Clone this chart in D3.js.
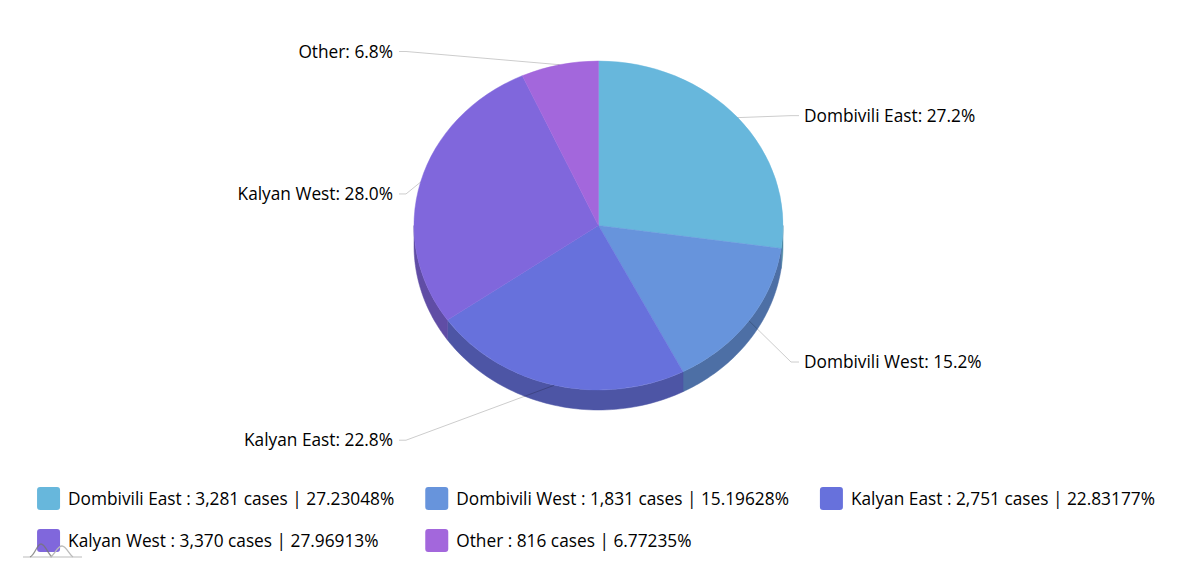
<!DOCTYPE html>
<html>
<head>
<meta charset="utf-8">
<script src="https://cdn.jsdelivr.net/npm/d3@7"></script>
<style>
  html, body { margin: 0; padding: 0; background: #fff; }
  svg { display: block; font-family: "Open Sans", sans-serif; }
</style>
</head>
<body>
<svg id="chart" width="1200" height="583"></svg>
<script>
const categories = ["Dombivili East", "Dombivili West", "Kalyan East", "Kalyan West", "Other"];
const cases = [3281, 1831, 2751, 3370, 816];
const colors = ["#67b7dc", "#6794dc", "#6771dc", "#8067dc", "#a367dc"];

const W = 1200, H = 583;
const cx = 598.5, cy = 225.5, rx = 184.5, ry = 164.5, depth = 20;
const fontSize = 17.3;

const svg = d3.select("#chart");
const total = d3.sum(cases);
const pctFmt5 = d3.format(".5f");
const pctFmt1 = d3.format(".1f");
const numFmt = d3.format(",");

const pie = d3.pie().sort(null).value(d => d.value);
const data = categories.map((c, i) => ({ name: c, value: cases[i], color: colors[i] }));
const arcs = pie(data);

const ex = t => cx + rx * Math.sin(t);
const ey = t => cy - ry * Math.cos(t);
const darken = c => { const k = d3.rgb(c); return d3.rgb(k.r * 0.75, k.g * 0.75, k.b * 0.75).formatHex(); };

// sides (visible front half: PI/2 .. 3PI/2)
const line = d3.line();
const gSide = svg.append("g");
arcs.forEach(a => {
  const a0 = Math.max(a.startAngle, Math.PI / 2), a1 = Math.min(a.endAngle, 3 * Math.PI / 2);
  if (a1 <= a0) return;
  const ts = d3.range(0, 61).map(k => a0 + (a1 - a0) * k / 60);
  const top = ts.map(t => [ex(t), ey(t)]);
  const bot = ts.slice().reverse().map(t => [ex(t), ey(t) + depth]);
  gSide.append("path")
    .attr("d", line(top.concat(bot)) + "Z")
    .attr("fill", darken(a.data.color))
    .attr("stroke", darken(a.data.color))
    .attr("stroke-width", 0.5);
});

// top faces
const arc = d3.arc().innerRadius(0).outerRadius(rx);
svg.append("g")
  .attr("transform", `translate(${cx},${cy}) scale(1,${ry / rx})`)
  .selectAll("path").data(arcs).join("path")
  .attr("d", arc)
  .attr("fill", d => d.data.color)
  .attr("stroke", d => d.data.color)
  .attr("stroke-width", 0.5);

// labels + ticks
const gLab = svg.append("g");
arcs.forEach(a => {
  const m = (a.startAngle + a.endAngle) / 2;
  const right = Math.sin(m) > 0;
  const ly = cy + 21 + (ry + 35) * (-Math.cos(m));
  const lx = right ? cx + rx + 21 : cx - rx - 21;
  const tEnd = right ? lx - 5 : lx + 6;
  const tBend = right ? tEnd - 8 : tEnd + 7;
  gLab.append("path")
    .attr("d", line([[ex(m), ey(m)], [tBend, ly], [tEnd, ly]]))
    .attr("fill", "none")
    .attr("stroke", "#000")
    .attr("stroke-opacity", 0.2)
    .attr("stroke-width", 1);
  gLab.append("text")
    .attr("x", lx).attr("y", ly).attr("dy", "0.35em")
    .attr("text-anchor", right ? "start" : "end")
    .attr("font-size", fontSize)
    .attr("fill", "#000")
    .text(`${a.data.name}: ${pctFmt1(a.data.value / total * 100)}%`);
});

// legend
const perRow = 3, marker = 23, gapText = 8, colGap = 31;
const rowY = [498.5, 540.5];
const legendCenter = 596;
const gLeg = svg.append("g");
const items = data.map((d, i) => {
  const g = gLeg.append("g");
  g.append("rect").attr("width", marker).attr("height", marker).attr("rx", 3).attr("ry", 3)
    .attr("y", -marker / 2).attr("fill", d.color);
  const t = g.append("text").attr("x", marker + gapText).attr("dy", "0.35em")
    .attr("font-size", fontSize).attr("fill", "#000")
    .text(`${d.name} : ${numFmt(d.value)} cases | ${pctFmt5(d.value / total * 100)}%`);
  return { g, w: marker + gapText + t.node().getComputedTextLength(), i };
});
const colW = d3.range(perRow).map(c => d3.max(items.filter(it => it.i % perRow === c), it => it.w));
const totalW = d3.sum(colW) + colGap * (perRow - 1);
const startX = legendCenter - totalW / 2;
items.forEach(it => {
  const c = it.i % perRow, r = Math.floor(it.i / perRow);
  const x = startX + d3.sum(colW.slice(0, c)) + colGap * c;
  it.g.attr("transform", `translate(${x},${rowY[r]})`);
});

// small logo mark bottom-left
const logo = svg.append("g").attr("transform", "translate(23,557)");
logo.append("path").attr("d", "M0,0 H59").attr("stroke", "#bbb").attr("stroke-width", 1.2).attr("fill", "none");
logo.append("path").attr("d", "M7,0 C12,-2 14,-13 18,-13 C22,-13 25,-3 29,0").attr("stroke", "#777").attr("stroke-width", 1.3).attr("fill", "none").attr("opacity", 0.8);
logo.append("path").attr("d", "M27,0 C32,-2 34,-11 39,-11 C43,-11 46,-3 50,0").attr("stroke", "#bbb").attr("stroke-width", 1.3).attr("fill", "none");
</script>
</body>
</html>
